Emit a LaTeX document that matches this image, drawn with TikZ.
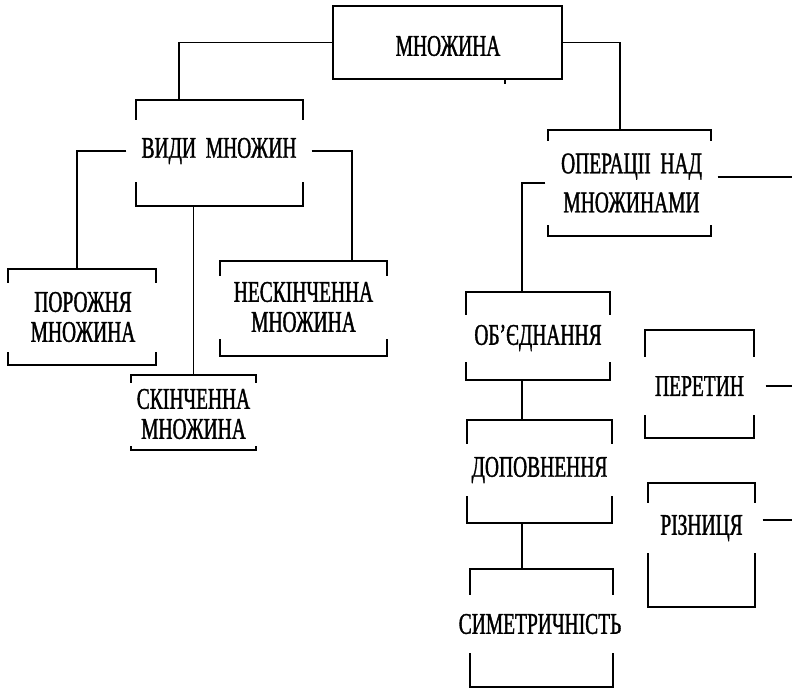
\documentclass[tikz,border=0pt]{standalone}
\usepackage{fontspec}
\newfontfamily\boxfont[FakeStretch=0.65,FakeBold=1.2]{Liberation Serif}
\usetikzlibrary{calc}

\begin{document}
\begin{tikzpicture}[x=1pt,y=-1pt,line width=1.3pt,
        frame/.style={draw,inner sep=0pt},
        label/.style={fill=white,inner sep=0pt,align=center,
            font=\boxfont\fontsize{30}{30}\selectfont}]
    \useasboundingbox (0,0) rectangle (792,688);
    \node[frame,minimum width=229,minimum height=73] (mn) at (447.5,42.5) {};
    \node[label] (mntext) at (448,46) {МНОЖИНА};
    \node[frame,minimum width=167,minimum height=106] (vydyf) at (219.5,153) {};
    \node[frame,minimum width=148,minimum height=96] (porf) at (82,317) {};
    \node[frame,minimum width=167,minimum height=95] (neskf) at (303.5,308.5) {};
    \node[frame,minimum width=125,minimum height=75] (skinf) at (193.5,412.5) {};
    \node[frame,minimum width=163,minimum height=106] (operf) at (629.5,183) {};
    \node[frame,minimum width=144,minimum height=88] (objf) at (538,336) {};
    \node[frame,minimum width=145,minimum height=103] (dopf) at (539.5,471.5) {};
    \node[frame,minimum width=143,minimum height=118] (symf) at (541.5,628) {};
    \node[frame,minimum width=109,minimum height=108] (perf) at (699.5,384) {};
    \node[frame,minimum width=107,minimum height=124] (rizf) at (701.5,545) {};
    \node[label,minimum width=184,minimum height=62] (vydy) at (219,151) {ВИДИ~~МНОЖИН};
    \node[label,minimum width=162,minimum height=69] (por) at (83,317) {ПОРОЖНЯ\\МНОЖИНА};
    \node[label,minimum width=180,minimum height=63] (nesk) at (303.5,307) {НЕСКІНЧЕННА\\МНОЖИНА};
    \node[label,minimum width=138,minimum height=63] (skin) at (193.5,414) {СКІНЧЕННА\\МНОЖИНА};
    \node[label,minimum width=171,minimum height=84] (oper) at (631.5,183) {ОПЕРАЦІІ~~НАД\\[9pt]МНОЖИНАМИ};
    \node[label,minimum width=150,minimum height=47] (obj) at (538,338) {ОБ’ЄДНАННЯ};
    \node[label,minimum width=150,minimum height=52] (dop) at (539.5,470) {ДОПОВНЕННЯ};
    \node[label,minimum width=174,minimum height=58] (sym) at (540,624) {СИМЕТРИЧНІСТЬ};
    \node[label,minimum width=131,minimum height=58] (per) at (699.5,386) {ПЕРЕТИН};
    \node[label,minimum width=121,minimum height=50] (riz) at (701.5,528) {РІЗНИЦЯ};
    \coordinate (trunk) at (522,182);
    \coordinate (edge) at (792,0);
    \draw (mn.west) -| ([xshift=-40.5pt]vydyf.north);
    \draw (mn.east) -| ([xshift=-9.5pt]operf.north);
    \draw ([xshift=57.5pt]mn.south) -- ++(0,4);
    \draw (vydy.west) -| ([xshift=-5pt]porf.north);
    \draw (vydy.east) -| ([xshift=48.5pt]neskf.north);
    \draw (vydyf.south -| skinf.north) -- (skinf.north);
    \draw (oper.west) -| (trunk |- objf.north);
    \draw (trunk |- objf.south) -- (trunk |- dopf.north);
    \draw (trunk |- dopf.south) -- (trunk |- symf.north);
    \draw ([yshift=6pt]oper.east) -- ([yshift=6pt]oper.east -| edge);
    \draw (per.east) -- (per.east -| edge);
    \draw ([yshift=8pt]riz.east) -- ([yshift=8pt]riz.east -| edge);
\end{tikzpicture}
\end{document}
